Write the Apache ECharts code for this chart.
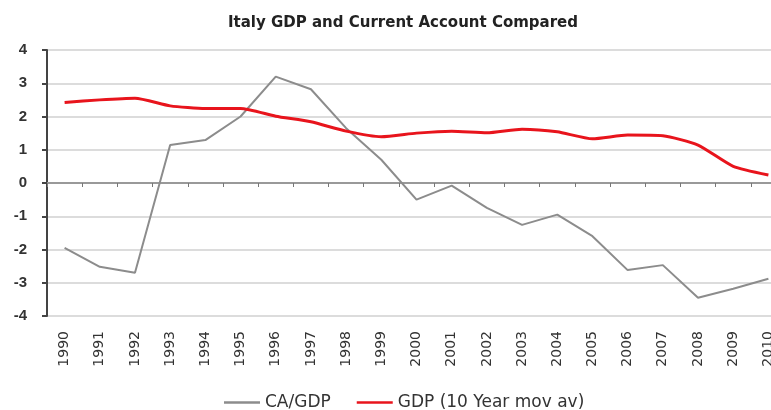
<!DOCTYPE html>
<html>
<head>
<meta charset="utf-8">
<script src="https://cdn.jsdelivr.net/npm/echarts@6/dist/echarts.min.js"></script>
<style>html,body{margin:0;padding:0;background:#fff;}#c{width:771px;height:410px;}</style>
</head>
<body>
<div id="c"></div>
<script>
const years = ['1990','1991','1992','1993','1994','1995','1996','1997','1998','1999','2000','2001','2002','2003','2004','2005','2006','2007','2008','2009','2010'];
const caGdp = [-1.95,-2.52,-2.7,1.14,1.29,2.0,3.2,2.82,1.65,0.7,-0.5,-0.08,-0.75,-1.26,-0.95,-1.6,-2.62,-2.47,-3.45,-3.18,-2.88];
const gdp10 = [2.42,2.5,2.55,2.32,2.24,2.24,2.01,1.84,1.56,1.39,1.5,1.56,1.51,1.62,1.54,1.33,1.44,1.42,1.14,0.5,0.24];
const yTicks = {min:-4, max:4, interval:1};

const chart = echarts.init(document.getElementById('c'));
chart.setOption({
  animation:false,
  backgroundColor:'#fff',
  title:{text:'Italy GDP and Current Account Compared', left:398, textAlign:'center', top:11,
    textStyle:{fontFamily:'DejaVu Sans', fontSize:15, fontWeight:'bold', color:'#222'}},
  grid:{left:47, top:50, height:266, width:739, outerBoundsMode:'none', containLabel:false},
  legend:{top:394, left:224, padding:0, itemWidth:36, itemHeight:2.5, itemGap:26, icon:'rect',
    textStyle:{fontFamily:'DejaVu Sans', fontSize:17, color:'#333'}},
  xAxis:[
    {type:'category', data:years, boundaryGap:true,
      axisLine:{onZero:true, lineStyle:{color:'#999', width:2}},
      axisTick:{show:true, length:4, lineStyle:{color:'#777'}},
      axisLabel:{show:false}, splitLine:{show:false}},
    {type:'category', data:years, boundaryGap:true, position:'bottom',
      axisLine:{show:false, onZero:false}, axisTick:{show:false},
      axisLabel:{rotate:90, margin:15, fontFamily:'DejaVu Sans', fontSize:14, color:'#333'}}
  ],
  yAxis:{type:'value', min:yTicks.min, max:yTicks.max, interval:yTicks.interval,
    axisLine:{show:true, lineStyle:{color:'#444', width:2}},
    axisTick:{show:true, length:5, lineStyle:{color:'#444', width:2}},
    axisLabel:{margin:20, fontFamily:'Liberation Sans', fontSize:15, fontWeight:'bold', color:'#333'},
    splitLine:{show:true, lineStyle:{color:'#dcdcdc', width:2}}},
  series:[
    {name:'CA/GDP', type:'line', data:caGdp, xAxisIndex:0, symbol:'none',
      lineStyle:{color:'#8c8c8c', width:2}, itemStyle:{color:'#8c8c8c'}},
    {name:'GDP (10 Year mov av)', type:'line', data:gdp10, xAxisIndex:0, symbol:'none', smooth:0.2,
      lineStyle:{color:'#e8141c', width:3}, itemStyle:{color:'#e8141c'}}
  ]
});
</script>
</body>
</html>
